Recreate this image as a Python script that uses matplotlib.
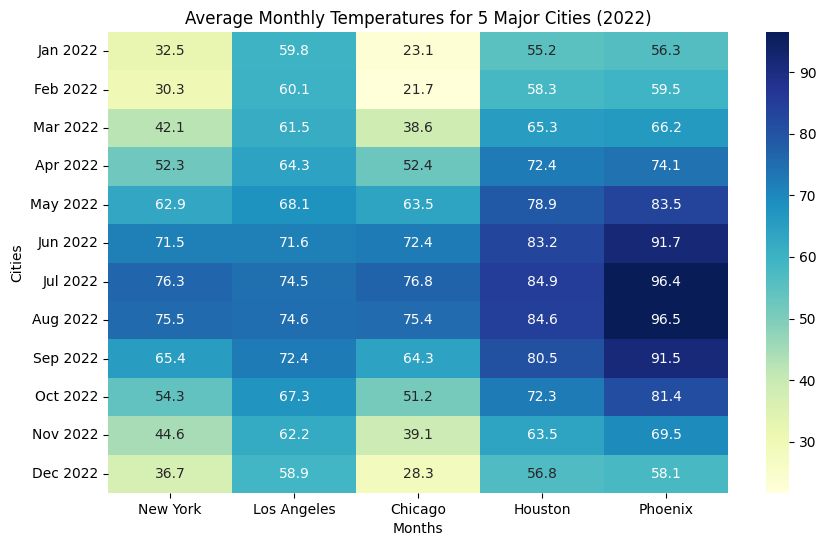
import numpy as np
import pandas as pd
import seaborn as sns
import matplotlib
matplotlib.use("Agg")
import matplotlib.pyplot as plt

months = ["Jan 2022", "Feb 2022", "Mar 2022", "Apr 2022", "May 2022", "Jun 2022",
          "Jul 2022", "Aug 2022", "Sep 2022", "Oct 2022", "Nov 2022", "Dec 2022"]
cities = ["New York", "Los Angeles", "Chicago", "Houston", "Phoenix"]

new_york = [32.5, 30.3, 42.1, 52.3, 62.9, 71.5, 76.3, 75.5, 65.4, 54.3, 44.6, 36.7]
los_angeles = [59.8, 60.1, 61.5, 64.3, 68.1, 71.6, 74.5, 74.6, 72.4, 67.3, 62.2, 58.9]
chicago = [23.1, 21.7, 38.6, 52.4, 63.5, 72.4, 76.8, 75.4, 64.3, 51.2, 39.1, 28.3]
houston = [55.2, 58.3, 65.3, 72.4, 78.9, 83.2, 84.9, 84.6, 80.5, 72.3, 63.5, 56.8]
phoenix = [56.3, 59.5, 66.2, 74.1, 83.5, 91.7, 96.4, 96.5, 91.5, 81.4, 69.5, 58.1]

df = pd.DataFrame(dict(zip(cities, [new_york, los_angeles, chicago, houston, phoenix])),
                  index=months)

fig = plt.figure(figsize=(8.26, 5.47), dpi=100)
# axes placed to match the reference layout (pixels / figure size)
ax = fig.add_axes([108 / 826, 54 / 547, 620 / 826, 461 / 547])
cax = fig.add_axes([766 / 826, 54 / 547, 23 / 826, 461 / 547])
sns.heatmap(df, annot=True, fmt=".1f", cmap="YlGnBu", ax=ax, cbar_ax=cax)
ax.set_title("Average Monthly Temperatures for 5 Major Cities (2022)")
ax.set_xlabel("Months")
ax.set_ylabel("Cities")
ax.tick_params(axis="y", rotation=0)
fig.savefig("out.png", dpi=100)
